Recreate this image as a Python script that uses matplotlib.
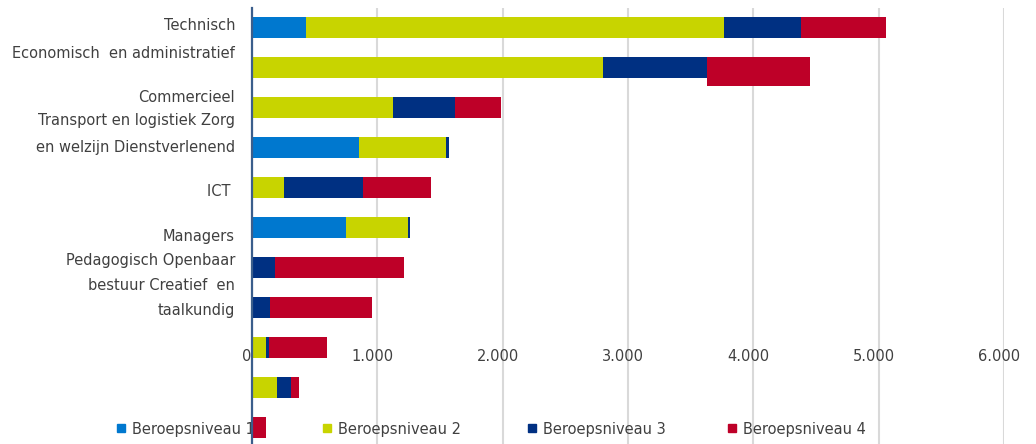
import matplotlib.pyplot as plt
from matplotlib.patches import Rectangle
from matplotlib.transforms import offset_copy

plt.rcParams['font.family'] = ['DejaVu Sans']

# Vacatures per beroepssegment en beroepsniveau (bovenste balk = rij 0)
rows = list(range(11))
niveau_1 = [431, 0, 0, 854, 0, 750, 0, 0, 0, 0, 0]
niveau_2 = [3336, 2801, 1125, 694, 256, 495, 0, 0, 112, 200, 0]
niveau_3 = [615, 830, 495, 25, 630, 15, 184, 144, 24, 112, 0]
niveau_4 = [678, 822, 367, 0, 543, 0, 1030, 814, 463, 64, 112]

series = [niveau_1, niveau_2, niveau_3, niveau_4]
series_names = ['Beroepsniveau 1', 'Beroepsniveau 2', 'Beroepsniveau 3', 'Beroepsniveau 4']
colors = ['#0078CF', '#C8D400', '#003082', '#BE0028']

# categorie-labels zoals ze in de as terechtkomen
label_lines = ['Technisch', 'Economisch  en administratief', 'Commercieel',
               'Transport en logistiek Zorg', 'en welzijn Dienstverlenend', 'ICT ',
               'Managers', 'Pedagogisch Openbaar', 'bestuur Creatief  en', 'taalkundig']
label_px = [26, 53, 97, 121, 147, 191, 236, 261, 286, 311]

xticks = [0, 1000, 2000, 3000, 4000, 5000, 6000]
xtick_labels = ['0', '1.000', '2.000', '3.000', '4.000', '5.000', '6.000']

W, H = 1036, 444
text_color = '#404040'
fs = 10.5


def row_of(py):
    # pixel-hoogte -> rij-eenheden (rijen liggen 40 px uit elkaar)
    return (py - 27.5) / 40


fig = plt.figure(figsize=(W / 100, H / 100), dpi=100)
ax = fig.add_axes([252 / W, 0, (1004 - 252) / W, (H - 8) / H])
ax.patch.set_alpha(0)
ax.set_xlim(0, 6000)
ax.set_ylim(row_of(H), row_of(8))

# gestapelde balken
left = [0] * len(rows)
for vals, color in zip(series, colors):
    ax.barh(rows, vals, left=left, height=0.52, color=color, linewidth=0, zorder=3)
    left = [l + v for l, v in zip(left, vals)]

# het rode deel van Economisch hangt iets lager door
ax.barh(row_of(57), niveau_4[1], left=niveau_2[1] + niveau_3[1], height=29 / 40,
        align='edge', color=colors[3], linewidth=0, zorder=3)

# assen en rasterlijnen
for s in ['top', 'right', 'bottom']:
    ax.spines[s].set_visible(False)
ax.spines['left'].set_color('#3B5E8C')
ax.spines['left'].set_linewidth(1.6)
ax.spines['left'].set_zorder(4)
ax.set_xticks(xticks)
ax.set_xticklabels([])
ax.set_yticks([])
ax.tick_params(length=0)
ax.xaxis.grid(True, color='#D9D9D9', linewidth=1.5)
ax.set_axisbelow(True)

# waarde-labels midden in de grafiek
tick_tr = offset_copy(ax.transData, fig=fig, x=-5, y=0, units='dots')
for t, lab in zip(xticks, xtick_labels):
    ax.text(t, row_of(356), lab, ha='center', va='center', fontsize=fs,
            color=text_color, transform=tick_tr, zorder=2)

# categorie-labels links
for lab, py in zip(label_lines, label_px):
    fig.text(235 / W, 1 - py / H, lab, ha='right', va='center', fontsize=fs,
             color=text_color)

# legenda onderaan, onder de balken
legend_px = [117, 323, 528, 728]
for name, color, px in zip(series_names, colors, legend_px):
    ax.add_patch(Rectangle((px / W, 1 - 432 / H), 8 / W, 8 / H, transform=fig.transFigure,
                           color=color, clip_on=False, zorder=1))
    ax.text((px + 15) / W, 1 - 429 / H, name, ha='left', va='center', fontsize=fs,
            color=text_color, transform=fig.transFigure, zorder=1)

plt.savefig('out.png', dpi=100)
